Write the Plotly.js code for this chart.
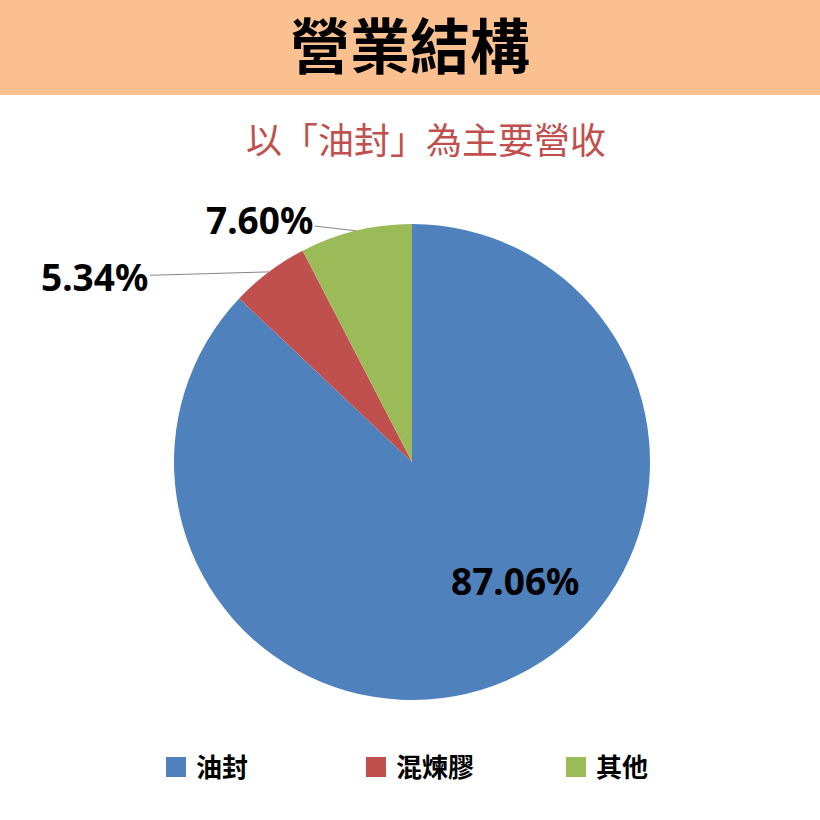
<!DOCTYPE html>
<html>
<head>
<meta charset="utf-8">
<script src="https://cdn.plot.ly/plotly-3.0.1.min.js"></script>
<style>
  body { margin: 0; background: #ffffff; }
  #myChart { width: 820px; height: 820px; }
</style>
</head>
<body>
<div id="myChart"></div>
<script>
const labels = ["油封", "混煉膠", "其他"];
const values = [87.06, 5.34, 7.60];
const colors = ['#4F81BD', '#C0504D', '#9BBB59'];

let myChart = document.getElementById('myChart');

const cjk = '"Noto Sans CJK TC", "Noto Sans CJK SC", sans-serif';
const num = '"Noto Sans", "Open Sans", sans-serif';

// pie sits in a square box, radius is half of it
let domX = [0.2122, 0.7927];
let domY = [0.1463, 0.7268];
let cx = (domX[0] + domX[1]) / 2;
let cy = (domY[0] + domY[1]) / 2;
let r = (domX[1] - domX[0]) / 2;

let trace = {
    type: 'pie',
    labels: labels,
    values: values,
    sort: false,
    direction: 'clockwise',
    rotation: 0,
    domain: { x: domX, y: domY },
    marker: { colors: colors, line: { width: 0 } },
    textinfo: 'none',
    hoverinfo: 'label+percent'
};

let labelFont = { family: num, size: 37, color: '#000000', weight: 'bold' };

let annotations = [{
    text: '以「油封」為主要營收',
    xref: 'paper', yref: 'paper',
    x: 426 / 820, y: 1 - 138 / 820,
    yanchor: 'middle',
    showarrow: false,
    font: { family: cjk, size: 36, color: '#C0504D' }
}];

// big slice: label inside, shifted from the pie centre
annotations.push({
    text: values[0].toFixed(2) + '%',
    xref: 'paper', yref: 'paper',
    x: cx, y: cy,
    xshift: 103, yshift: -118,
    showarrow: false,
    font: labelFont
});

// small slices: outside label with a thin leader line to the rim
let offsets = [null, [-174, 5], [-96, -11]];
let total = values.reduce((a, b) => a + b, 0);
let acc = 0;
values.forEach((v, i) => {
    let mid = (acc + v / 2) / total * 2 * Math.PI;
    acc += v;
    if (!offsets[i]) return;
    annotations.push({
        text: v.toFixed(2) + '%',
        xref: 'paper', yref: 'paper',
        x: cx + r * Math.sin(mid),
        y: cy + r * Math.cos(mid),
        showarrow: true,
        arrowhead: 0,
        arrowwidth: 0.8,
        arrowcolor: '#666666',
        ax: offsets[i][0],
        ay: offsets[i][1],
        font: labelFont
    });
});

let layout = {
    width: 820,
    height: 820,
    margin: { l: 0, r: 0, t: 0, b: 0 },
    paper_bgcolor: '#ffffff',
    title: {
        text: '營業結構',
        font: { family: cjk, size: 60, color: '#000000', weight: 'bold' },
        x: 0.5, xanchor: 'center',
        yref: 'container',
        y: 1 - 48 / 820, yanchor: 'middle'
    },
    shapes: [{
        type: 'rect',
        xref: 'paper', yref: 'paper',
        x0: 0, x1: 1, y0: 1 - 95 / 820, y1: 1,
        fillcolor: '#FAC090',
        line: { width: 0 },
        layer: 'below'
    }],
    annotations: annotations,
    showlegend: true,
    legend: {
        orientation: 'h',
        x: 156 / 820, xanchor: 'left',
        y: 1 - 767 / 820, yanchor: 'middle',
        entrywidth: 155,
        font: { family: cjk, size: 26, color: '#000000', weight: 'bold' }
    }
};

Plotly.newPlot(myChart, [trace], layout, { displayModeBar: false, staticPlot: true }).then(() => {
    // legend squares a bit bigger, like the original
    document.querySelectorAll('.legendpoints path').forEach(p => {
        p.setAttribute('d', 'M10,10H-10V-10H10Z');
    });
});
</script>
</body>
</html>
